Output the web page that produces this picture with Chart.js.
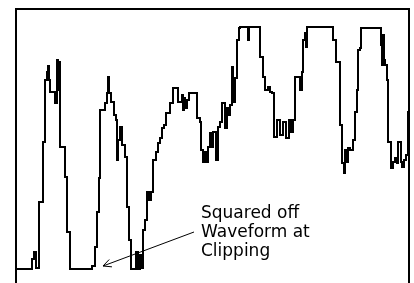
<!DOCTYPE html>
<html>
<head>
<meta charset="utf-8">
<script src="https://cdn.jsdelivr.net/npm/chart.js@4"></script>
<style>
  html, body { margin: 0; padding: 0; background: #fff; }
  #wrap { width: 414px; height: 283px; }
</style>
</head>
<body>
<div id="wrap"><canvas id="chart" width="414" height="283"></canvas></div>
<script>
// sample times (arbitrary units) and waveform amplitude; clipping level ~243
const times = [
  0, 16, 18, 20, 23, 27, 29, 31, 32, 33, 34, 39, 41, 42, 43, 44, 49, 51, 54,
  76, 79, 81, 83, 84, 89, 91, 92, 93, 95, 98, 100, 101, 102, 104, 106, 109, 111, 113, 115,
  120, 122, 124, 126, 127, 129, 131, 133, 135, 137, 140, 142, 144, 146, 148, 150, 154, 157,
  162, 166, 167, 168, 169, 171, 173, 181, 184, 185, 187, 189, 190, 192, 194, 196, 197,
  200, 202, 204, 206, 209, 211, 212, 214, 216, 217, 219, 221, 223, 224, 232, 233,
  244, 247, 249, 252, 254, 256, 258, 261, 264, 267, 270, 273, 275, 277,
  279, 284, 286, 287, 289, 290, 291, 317, 320, 324, 326, 328, 329, 331, 332, 334, 337,
  339, 341, 342, 344, 345, 365, 366, 367, 368, 369, 371, 372, 375, 377, 379, 381, 382,
  385, 386, 388, 390, 392, 394, 396, 398
];
const amplitude = [
  1, 11, 18, 2, 68, 128, 190, 198, 204, 190, 178, 167, 210, 180, 208, 123, 93, 38, 1,
  4, 23, 58, 92, 160, 167, 177, 193, 177, 168, 155, 150, 110, 130, 143, 125, 113, 63, 30, 1,
  18, 1, 15, 2, 40, 50, 78, 70, 78, 110, 118, 127, 132, 142, 145, 157, 167, 182,
  168, 175, 160, 172, 162, 170, 177, 152, 148, 120, 108, 118, 108, 123, 137, 123, 138,
  110, 143, 148, 167, 142, 162, 155, 165, 203, 168, 192, 230, 242, 243, 230, 243,
  213, 193, 180, 183, 178, 177, 133, 150, 135, 148, 132, 150, 138, 150,
  193, 180, 198, 230, 237, 223, 243, 230, 208, 145, 107, 97, 120, 108, 122, 120, 130,
  158, 180, 220, 222, 242, 225, 205, 235, 210, 205, 190, 128, 102, 108, 112, 107, 128,
  108, 103, 110, 115, 158, 155, 182, 182
];
const noteLines = ["Squared off", "Waveform at", "Clipping"];

const points = times.map((t, i) => ({ x: t, y: amplitude[i] }));

const frameAndNote = {
  id: "frameAndNote",
  afterDraw(chart) {
    const { ctx, chartArea: a, scales } = chart;
    const X = (v) => scales.x.getPixelForValue(v);
    const Y = (v) => scales.y.getPixelForValue(v);
    ctx.save();
    // open frame: top, left, right
    ctx.strokeStyle = "#000";
    ctx.lineWidth = 2;
    ctx.beginPath();
    ctx.moveTo(a.left, a.bottom);
    ctx.lineTo(a.left, a.top);
    ctx.lineTo(a.right, a.top);
    ctx.lineTo(a.right, a.bottom);
    ctx.stroke();

    // arrow pointing at the flat valley
    const tipX = X(87), tipY = Y(4);
    const tailX = X(178), tailY = Y(38);
    ctx.lineWidth = 1;
    ctx.beginPath();
    ctx.moveTo(tailX, tailY);
    ctx.lineTo(tipX, tipY);
    const ang = Math.atan2(tailY - tipY, tailX - tipX);
    const len = 9, spread = 0.45;
    ctx.moveTo(tipX + len * Math.cos(ang - spread), tipY + len * Math.sin(ang - spread));
    ctx.lineTo(tipX, tipY);
    ctx.lineTo(tipX + len * Math.cos(ang + spread), tipY + len * Math.sin(ang + spread));
    ctx.stroke();

    // note text
    ctx.fillStyle = "#000";
    ctx.font = "17px 'DejaVu Sans', sans-serif";
    ctx.textBaseline = "alphabetic";
    ctx.textAlign = "left";
    noteLines.forEach((line, i) => {
      ctx.fillText(line, X(185), Y(52 - i * 19));
    });
    ctx.restore();
  },
};

new Chart(document.getElementById("chart"), {
  type: "line",
  data: {
    datasets: [
      {
        data: points,
        borderColor: "#000",
        borderWidth: 2,
        stepped: true,
        pointRadius: 0,
        fill: false,
      },
    ],
  },
  options: {
    responsive: false,
    animation: false,
    layout: { padding: { left: 16, right: 5, top: 9, bottom: 0 } },
    plugins: { legend: { display: false }, tooltip: { enabled: false } },
    scales: {
      x: { type: "linear", min: 0, max: 393, display: false },
      y: { min: -13, max: 261, display: false },
    },
  },
  plugins: [frameAndNote],
});
</script>
</body>
</html>
